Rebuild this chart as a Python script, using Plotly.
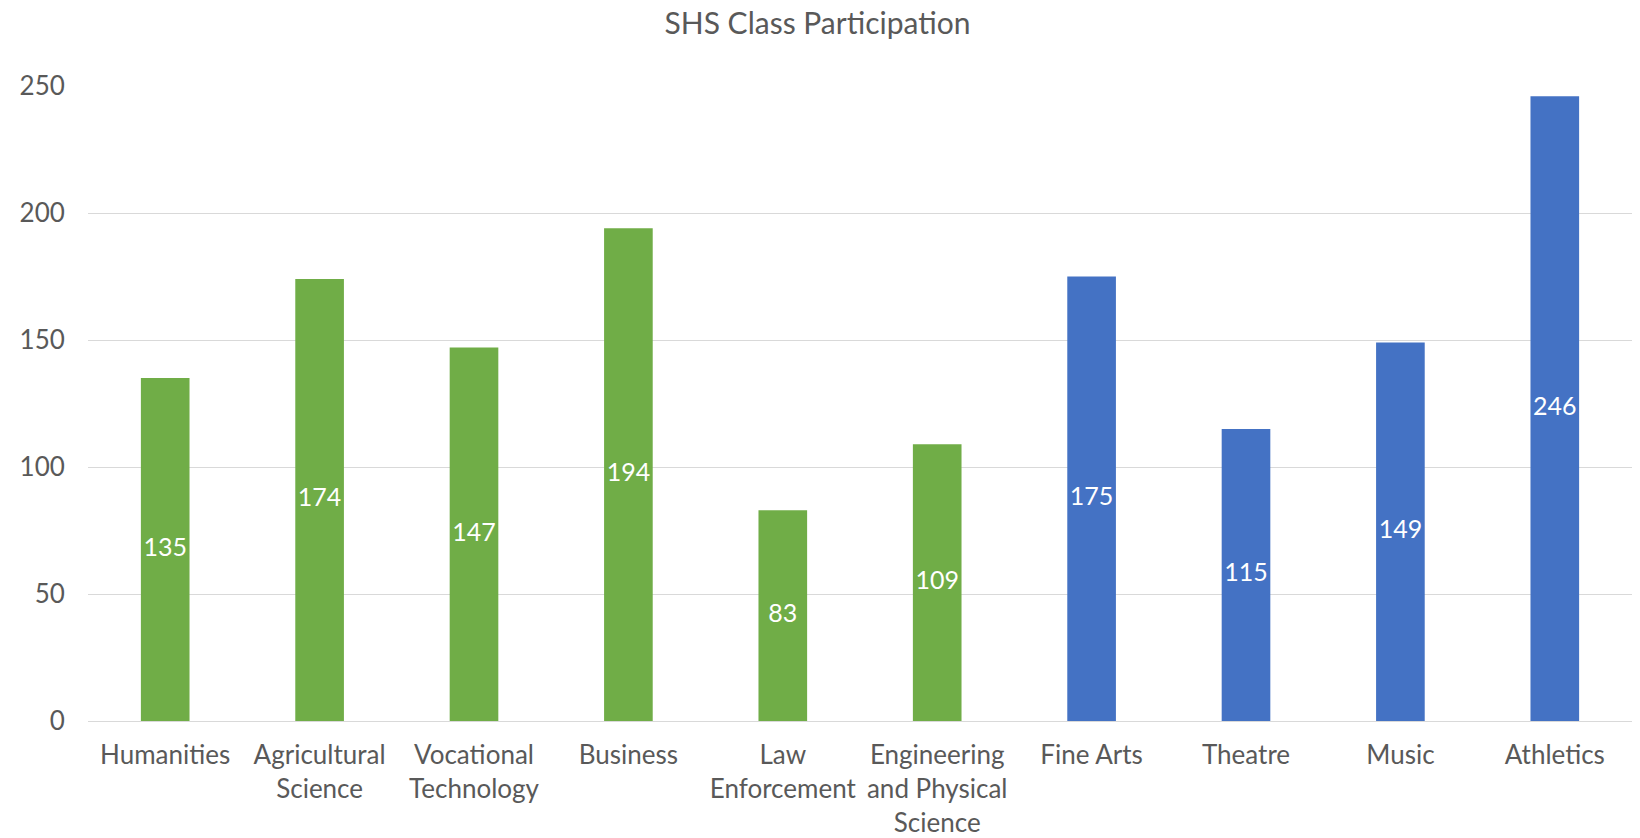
import plotly.graph_objects as go

categories = [
    "Humanities", "Agricultural<br>Science", "Vocational<br>Technology", "Business",
    "Law<br>Enforcement", "Engineering<br>and Physical<br>Science",
    "Fine Arts", "Theatre", "Music", "Athletics",
]
participants = [135, 174, 147, 194, 83, 109, 175, 115, 149, 246]
groups = ["academic"] * 6 + ["arts"] * 4

group_colors = {"academic": "#70AD47", "arts": "#4472C4"}
colors = [group_colors[g] for g in groups]

fig = go.Figure()
fig.add_trace(
    go.Bar(
        x=categories,
        y=participants,
        marker=dict(color=colors, line=dict(width=0)),
        width=0.315,
        hoverinfo="x+y",
    )
)
# value labels centred in the bars, kept horizontal
fig.add_trace(
    go.Scatter(
        x=categories,
        y=[v / 2 for v in participants],
        mode="text",
        text=[str(v) for v in participants],
        textposition="middle center",
        textfont=dict(color="white", size=25, family="Lato"),
        hoverinfo="skip",
    )
)
fig.update_xaxes(
    showgrid=False,
    showline=True,
    linecolor="#D9D9D9",
    linewidth=1,
    ticks="outside",
    ticklen=11,
    tickcolor="rgba(0,0,0,0)",
    tickfont=dict(size=26, color="#595959", family="Lato"),
    tickangle=0,
    automargin=False,
)
fig.update_yaxes(
    range=[0, 250],
    dtick=50,
    showgrid=True,
    gridcolor="#D9D9D9",
    gridwidth=1,
    zeroline=False,
    ticks="outside",
    ticklen=17,
    tickcolor="rgba(0,0,0,0)",
    tickfont=dict(size=26, color="#595959", family="Lato"),
    automargin=False,
)
fig.update_layout(
    title=dict(
        text="SHS Class Participation",
        x=0.496,
        xanchor="center",
        y=0.994,
        yanchor="top",
        font=dict(size=30, color="#595959", family="Lato"),
    ),
    width=1632,
    height=830,
    margin=dict(l=80, r=8, t=78, b=117),
    plot_bgcolor="white",
    paper_bgcolor="white",
    showlegend=False,
)
fig.write_html("out.html")
